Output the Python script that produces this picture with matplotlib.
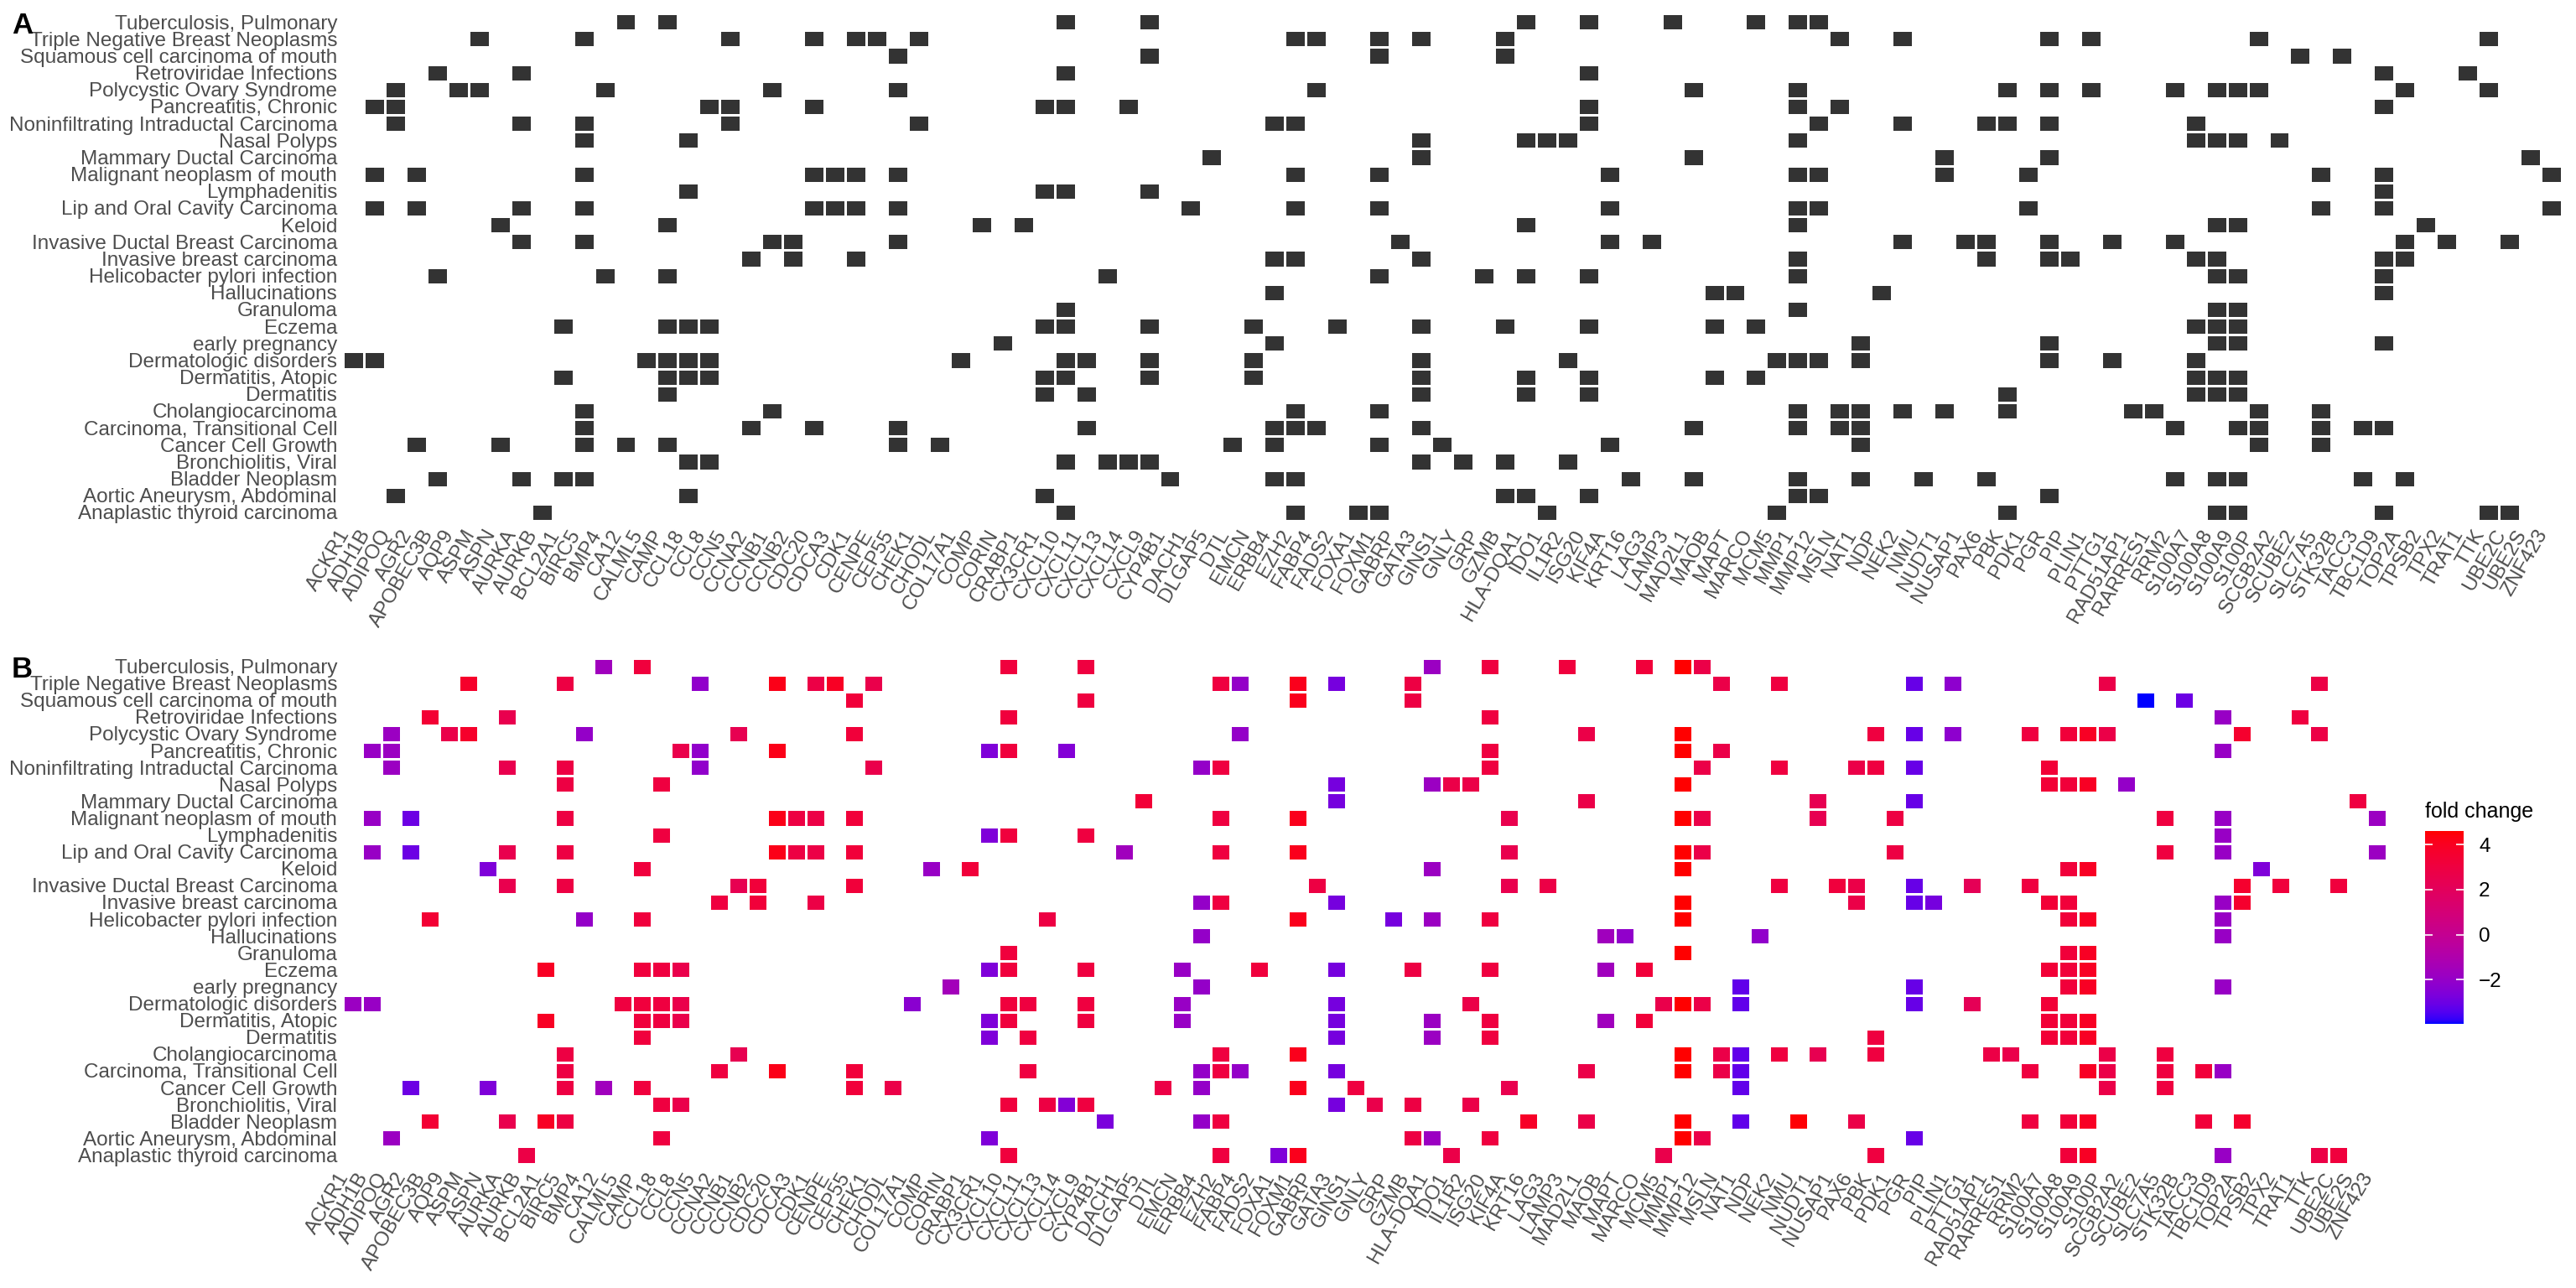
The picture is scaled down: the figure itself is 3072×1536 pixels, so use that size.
import numpy as np
import matplotlib
matplotlib.use("Agg")
import matplotlib.pyplot as plt
from matplotlib.colors import ListedColormap, Normalize

plt.rcParams['font.family'] = ['Liberation Sans', 'DejaVu Sans']

genes = ["ACKR1", "ADH1B", "ADIPOQ", "AGR2", "APOBEC3B", "AQP9", "ASPM", "ASPN", "AURKA", "AURKB",
         "BCL2A1", "BIRC5", "BMP4", "CA12", "CALML5", "CAMP", "CCL18", "CCL8", "CCN5", "CCNA2",
         "CCNB1", "CCNB2", "CDC20", "CDCA3", "CDK1", "CENPE", "CEP55", "CHEK1", "CHODL", "COL17A1",
         "COMP", "CORIN", "CRABP1", "CX3CR1", "CXCL10", "CXCL11", "CXCL13", "CXCL14", "CXCL9", "CYP4B1",
         "DACH1", "DLGAP5", "DTL", "EMCN", "ERBB4", "EZH2", "FABP4", "FADS2", "FOXA1", "FOXM1",
         "GABRP", "GATA3", "GINS1", "GNLY", "GRP", "GZMB", "HLA-DQA1", "IDO1", "IL1R2", "ISG20",
         "KIF4A", "KRT16", "LAG3", "LAMP3", "MAD2L1", "MAOB", "MAPT", "MARCO", "MCM5", "MMP1",
         "MMP12", "MSLN", "NAT1", "NDP", "NEK2", "NMU", "NUDT1", "NUSAP1", "PAX6", "PBK",
         "PDK1", "PGR", "PIP", "PLIN1", "PTTG1", "RAD51AP1", "RARRES1", "RRM2", "S100A7", "S100A8",
         "S100A9", "S100P", "SCGB2A2", "SCUBE2", "SLC7A5", "STK32B", "TACC3", "TBC1D9", "TOP2A", "TPSB2",
         "TPX2", "TRAT1", "TTK", "UBE2C", "UBE2S", "ZNF423"]

fold_change = [-1.8, -1.9, -1.8, -3.0, 3.4, 2.6, 3.7, -2.6, 2.5, 2.8,
               3.9, 2.9, -2.0, -1.6, 3.0, 3.1, 3.0, 2.6, -2.1, 3.0,
               2.4, 3.2, 4.2, 2.9, 2.8, 3.9, 3.2, 2.6, 2.7, -2.3,
               -1.9, -1.5, 3.2, -2.6, 3.1, 3.0, 2.9, -2.5, 3.0, -2.7,
               -1.6, 3.3, 2.8, -1.9, -2.0, 3.0, -2.0, 3.1, -2.6, 4.1,
               2.9, -2.8, 3.0, 2.6, -2.8, 2.9, -1.8, 2.7, 2.7, 3.0,
               2.5, 3.8, 2.8, 3.1, 2.7, -1.6, -2.1, 3.2, 2.6, 4.6,
               2.7, 2.7, -3.2, -2.1, 3.0, 4.5, 2.4, 3.1, 2.7, 3.0,
               2.9, -3.1, -2.8, -2.2, 2.2, 2.8, 2.6, 3.0, 3.3, 3.2,
               3.9, 2.7, -2.0, -3.96, 3.0, -3.0, 3.2, -1.9, 3.6, -2.6,
               3.1, 3.0, 2.8, 3.1, 3.0, -1.8]

# top to bottom
diseases = ["Tuberculosis, Pulmonary", "Triple Negative Breast Neoplasms", "Squamous cell carcinoma of mouth",
            "Retroviridae Infections", "Polycystic Ovary Syndrome", "Pancreatitis, Chronic",
            "Noninfiltrating Intraductal Carcinoma", "Nasal Polyps", "Mammary Ductal Carcinoma",
            "Malignant neoplasm of mouth", "Lymphadenitis", "Lip and Oral Cavity Carcinoma", "Keloid",
            "Invasive Ductal Breast Carcinoma", "Invasive breast carcinoma", "Helicobacter pylori infection",
            "Hallucinations", "Granuloma", "Eczema", "early pregnancy", "Dermatologic disorders",
            "Dermatitis, Atopic", "Dermatitis", "Cholangiocarcinoma", "Carcinoma, Transitional Cell",
            "Cancer Cell Growth", "Bronchiolitis, Viral", "Bladder Neoplasm", "Aortic Aneurysm, Abdominal",
            "Anaplastic thyroid carcinoma"]

disease_genes = [
    ["CA12", "CAMP", "CXCL10", "CXCL9", "HLA-DQA1", "ISG20", "LAMP3", "MARCO", "MMP1", "MMP12"],
    ["ASPM", "BIRC5", "CCN5", "CDC20", "CDK1", "CENPE", "CHEK1", "EZH2", "FABP4", "FOXM1", "GATA3",
     "GZMB", "MSLN", "NEK2", "PGR", "PLIN1", "S100P", "TTK"],
    ["CEP55", "CXCL9", "FOXM1", "GZMB", "SCUBE2", "STK32B"],
    ["APOBEC3B", "AURKA", "CXCL10", "ISG20", "TBC1D9", "TRAT1"],
    ["ADIPOQ", "AQP9", "ASPM", "BMP4", "CCNB1", "CEP55", "FABP4", "MAD2L1", "MMP1", "PBK", "PGR",
     "PLIN1", "RRM2", "S100A8", "S100A9", "S100P", "TOP2A", "TTK"],
    ["ADH1B", "ADIPOQ", "CCL8", "CCN5", "CDC20", "CX3CR1", "CXCL10", "CXCL14", "ISG20", "MMP1",
     "MSLN", "TBC1D9"],
    ["ADIPOQ", "AURKA", "BIRC5", "CCN5", "CHEK1", "ERBB4", "EZH2", "ISG20", "MMP12", "NEK2", "PAX6",
     "PBK", "PGR", "S100A7"],
    ["BIRC5", "CCL18", "GATA3", "HLA-DQA1", "IDO1", "IL1R2", "MMP1", "S100A7", "S100A8", "S100A9",
     "SCGB2A2"],
    ["DLGAP5", "GATA3", "MAD2L1", "NUDT1", "PGR", "UBE2S"],
    ["ADH1B", "AGR2", "BIRC5", "CDC20", "CDCA3", "CDK1", "CEP55", "EZH2", "FOXM1", "KIF4A", "MMP1",
     "MMP12", "NUDT1", "PDK1", "SLC7A5", "TBC1D9", "ZNF423"],
    ["CCL18", "CX3CR1", "CXCL10", "CXCL9", "TBC1D9"],
    ["ADH1B", "AGR2", "AURKA", "BIRC5", "CDC20", "CDCA3", "CDK1", "CEP55", "DACH1", "EZH2", "FOXM1",
     "KIF4A", "MMP1", "MMP12", "PDK1", "SLC7A5", "TBC1D9", "ZNF423"],
    ["ASPN", "CAMP", "COMP", "CRABP1", "HLA-DQA1", "MMP1", "S100A8", "S100A9", "TPSB2"],
    ["AURKA", "BIRC5", "CCNB1", "CCNB2", "CEP55", "GABRP", "KIF4A", "LAG3", "NEK2", "NUSAP1", "PAX6",
     "PGR", "PTTG1", "RRM2", "TOP2A", "TPX2", "UBE2C"],
    ["CCNA2", "CCNB2", "CDK1", "ERBB4", "EZH2", "GATA3", "MMP1", "PAX6", "PGR", "PIP", "S100A7",
     "S100A8", "TBC1D9", "TOP2A"],
    ["APOBEC3B", "BMP4", "CAMP", "CXCL13", "FOXM1", "GRP", "HLA-DQA1", "ISG20", "MMP1", "S100A8",
     "S100A9", "TBC1D9"],
    ["ERBB4", "MAOB", "MAPT", "NDP", "TBC1D9"],
    ["CXCL10", "MMP1", "S100A8", "S100A9"],
    ["BCL2A1", "CAMP", "CCL18", "CCL8", "CX3CR1", "CXCL10", "CXCL9", "EMCN", "FADS2", "GATA3", "GZMB",
     "ISG20", "MAOB", "MARCO", "S100A7", "S100A8", "S100A9"],
    ["CORIN", "ERBB4", "NAT1", "PGR", "S100A8", "S100A9", "TBC1D9"],
    ["ACKR1", "ADH1B", "CALML5", "CAMP", "CCL18", "CCL8", "COL17A1", "CXCL10", "CXCL11", "CXCL9",
     "EMCN", "GATA3", "IL1R2", "MCM5", "MMP1", "MMP12", "NAT1", "PGR", "PTTG1", "S100A7"],
    ["BCL2A1", "CAMP", "CCL18", "CCL8", "CX3CR1", "CXCL10", "CXCL9", "EMCN", "GATA3", "HLA-DQA1",
     "ISG20", "MAOB", "MARCO", "S100A7", "S100A8", "S100A9"],
    ["CAMP", "CX3CR1", "CXCL11", "GATA3", "HLA-DQA1", "ISG20", "PBK", "S100A7", "S100A8", "S100A9"],
    ["BIRC5", "CCNB1", "EZH2", "FOXM1", "MMP1", "MSLN", "NAT1", "NEK2", "NUDT1", "PBK", "RAD51AP1",
     "RARRES1", "S100P", "SLC7A5"],
    ["BIRC5", "CCNA2", "CDC20", "CEP55", "CXCL11", "ERBB4", "EZH2", "FABP4", "GATA3", "MAD2L1", "MMP1",
     "MSLN", "NAT1", "RRM2", "S100A9", "S100P", "SLC7A5", "TACC3", "TBC1D9"],
    ["AGR2", "ASPN", "BIRC5", "CA12", "CAMP", "CEP55", "CHODL", "DTL", "ERBB4", "FOXM1", "GINS1",
     "KIF4A", "NAT1", "S100P", "SLC7A5"],
    ["CCL18", "CCL8", "CXCL10", "CXCL13", "CXCL14", "CXCL9", "GATA3", "GNLY", "GZMB", "IL1R2"],
    ["APOBEC3B", "AURKA", "BCL2A1", "BIRC5", "CYP4B1", "ERBB4", "EZH2", "KRT16", "MAD2L1", "MMP1",
     "NAT1", "NMU", "PAX6", "RRM2", "S100A8", "S100A9", "TACC3", "TOP2A"],
    ["ADIPOQ", "CCL18", "CX3CR1", "GZMB", "HLA-DQA1", "ISG20", "MMP1", "MMP12", "PGR"],
    ["AURKB", "CXCL10", "EZH2", "FOXA1", "FOXM1", "IDO1", "MCM5", "PBK", "S100A8", "S100A9", "TBC1D9",
     "TTK", "UBE2C"],
]


# blue -> red gradient interpolated in CIELAB, like ggplot's scale_fill_gradient
_M = np.array([[0.4124564, 0.3575761, 0.1804375],
               [0.2126729, 0.7151522, 0.0721750],
               [0.0193339, 0.1191920, 0.9503041]])
_WHITE = np.array([0.95047, 1.0, 1.08883])


def to_lab(rgb):
    rgb = np.asarray(rgb, float)
    lin = np.where(rgb <= 0.04045, rgb / 12.92, ((rgb + 0.055) / 1.055) ** 2.4)
    f = (_M @ lin) / _WHITE
    f = np.where(f > (6 / 29) ** 3, np.cbrt(f), f / (3 * (6 / 29) ** 2) + 4 / 29)
    return np.array([116 * f[1] - 16, 500 * (f[0] - f[1]), 200 * (f[1] - f[2])])


def from_lab(lab):
    fy = (lab[0] + 16) / 116
    f = np.array([fy + lab[1] / 500, fy, fy - lab[2] / 200])
    xyz = np.where(f > 6 / 29, f ** 3, 3 * (6 / 29) ** 2 * (f - 4 / 29)) * _WHITE
    lin = np.clip(np.linalg.solve(_M, xyz), 0, 1)
    rgb = np.where(lin <= 0.0031308, 12.92 * lin, 1.055 * lin ** (1 / 2.4) - 0.055)
    return np.clip(rgb, 0, 1)


lab_lo, lab_hi = to_lab([0, 0, 1]), to_lab([1, 0, 0])
fc_cmap = ListedColormap([from_lab(lab_lo + t * (lab_hi - lab_lo)) for t in np.linspace(0, 1, 256)])

# matrices
n_rows, n_cols = len(diseases), len(genes)
present = np.full((n_rows, n_cols), np.nan)
fc_mat = np.full((n_rows, n_cols), np.nan)
for i, glist in enumerate(disease_genes):
    for g in glist:
        j = genes.index(g)
        present[i, j] = 1
        fc_mat[i, j] = fold_change[j]

W, H = 3072, 1536
fig = plt.figure(figsize=(W / 100, H / 100), dpi=100, facecolor='white')

txt_col = '#4D4D4D'
fs = 17.5

axA = fig.add_axes([409 / W, 1 - 621 / H, (3055 - 409) / W, (621 - 16) / H])
axB = fig.add_axes([409 / W, 1 - 1387.5 / H, (2846 - 409) / W, (1387.5 - 784.5) / H])

xe = np.arange(n_cols + 1)
ye = np.arange(n_rows + 1)
axA.pcolormesh(xe, ye, np.ma.masked_invalid(present), cmap=ListedColormap(['#333333']),
               edgecolors='white', linewidth=0.8)
norm = Normalize(vmin=min(fold_change), vmax=max(fold_change))
meshB = axB.pcolormesh(xe, ye, np.ma.masked_invalid(fc_mat), cmap=fc_cmap, norm=norm,
                       edgecolors='white', linewidth=0.8)

for ax in (axA, axB):
    ax.set_xlim(0, n_cols)
    ax.set_ylim(n_rows, 0)
    ax.set_xticks(np.arange(n_cols) + 0.5)
    ax.set_xticklabels(genes, rotation=60, ha='right', va='top', fontsize=fs, color=txt_col)
    ax.set_yticks(np.arange(n_rows) + 0.5)
    ax.set_yticklabels(diseases, fontsize=fs, color=txt_col)
    ax.tick_params(length=0, pad=5)
    for s in ax.spines.values():
        s.set_visible(False)

fig.text(14 / W, 1 - 40 / H, "A", fontsize=25, fontweight='bold', va='baseline')
fig.text(14 / W, 1 - 808 / H, "B", fontsize=25, fontweight='bold', va='baseline')

# legend
cax = fig.add_axes([2892 / W, 1 - 1221 / H, 46 / W, 230 / H])
cbar = fig.colorbar(meshB, cax=cax)
cbar.outline.set_visible(False)
ticks = [-2, 0, 2, 4]
cbar.set_ticks(ticks)
cbar.ax.tick_params(length=0, pad=13, labelsize=fs)
cax.hlines(ticks, 0, 0.2, colors='white', linewidth=1.2)
cax.hlines(ticks, 0.8, 1, colors='white', linewidth=1.2)
fig.text(2892 / W, 1 - 975 / H, "fold change", fontsize=18, va='baseline')

fig.savefig("out.png", dpi=100, facecolor='white')
